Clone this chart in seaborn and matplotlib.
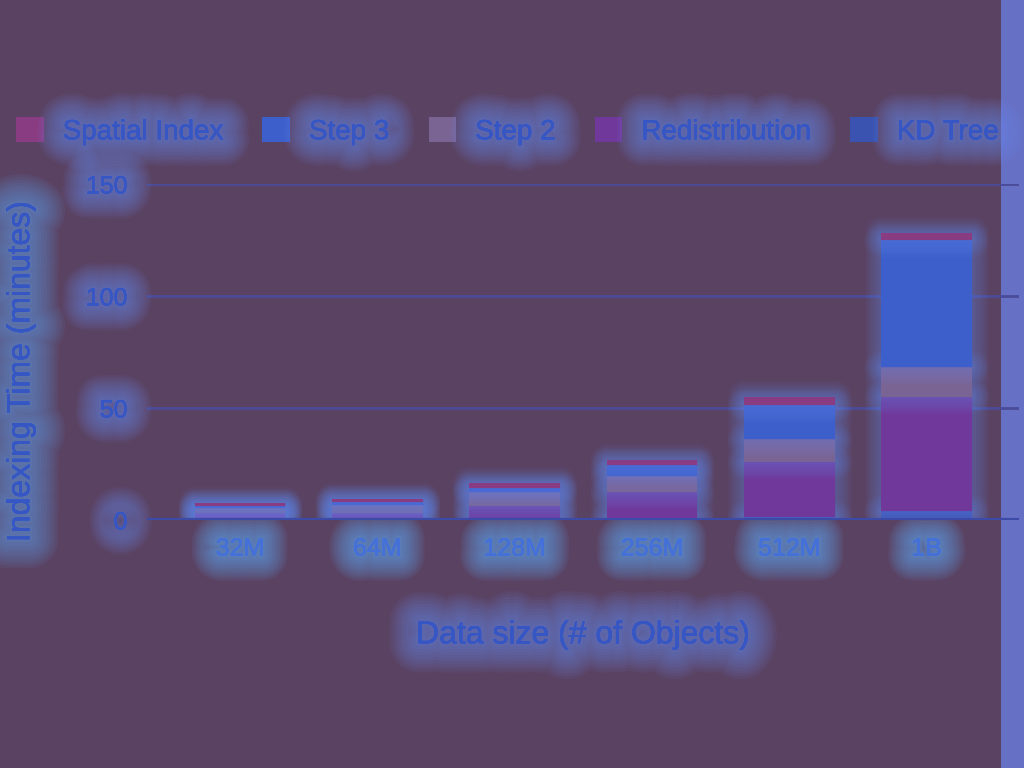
import numpy as np
import pandas as pd
import matplotlib
matplotlib.use("Agg")
import matplotlib.pyplot as plt
import matplotlib.patheffects as pe
from matplotlib.patches import Rectangle, Patch
import seaborn as sns

# --- Data (minutes) ---
sizes = ["32M", "64M", "128M", "256M", "512M", "1B"]
kd_tree = [0.5, 0.5, 0.5, 1.0, 1.5, 4.0]
redistribution = [2.5, 2.5, 5.5, 11.5, 24.5, 51.0]
step2 = [2.5, 3.7, 6.4, 7.1, 10.2, 13.4]
step3 = [0.8, 1.2, 1.9, 5.0, 15.0, 56.7]
spatial_index = [1.2, 1.6, 2.1, 2.2, 3.5, 3.1]

# stacking order bottom -> top
series = ["KD Tree", "Redistribution", "Step 2", "Step 3", "Spatial Index"]
values = [kd_tree, redistribution, step2, step3, spatial_index]
colors = {
    "KD Tree": "#3a52b0",
    "Redistribution": "#70389a",
    "Step 2": "#7a6494",
    "Step 3": "#3c5fcc",
    "Spatial Index": "#8a3c82",
}

df = pd.DataFrame({"size": sizes})
for name, v in zip(series, values):
    df[name] = v

bg = "#5a4262"
text_c = "#3656c4"
glow_c = "#6a8cf0"


def glow(width=24, alpha=0.05, steps=10, color=glow_c):
    # soft halo: stacked round strokes of decreasing width
    eff = []
    for i in range(steps):
        lw = width * (steps - i) / steps
        eff.append(pe.withStroke(linewidth=lw, foreground=color, alpha=alpha,
                                 joinstyle="round", capstyle="round"))
    eff.append(pe.Normal())
    return eff


plt.rcParams["font.family"] = ["Liberation Sans", "DejaVu Sans"]

fig = plt.figure(figsize=(10.24, 7.68), dpi=100, facecolor=bg)

# right edge strip
fig.patches.append(Rectangle((0.978, 0), 0.022, 1, transform=fig.transFigure,
                             facecolor="#6670c4", edgecolor="none", zorder=-1))

ax = fig.add_axes([0.1436, 0.323, 0.852, 0.4375])
ax.patch.set_alpha(0)

bottom = np.zeros(len(sizes))
for name in series:
    sns.barplot(data=df, x="size", y=name, bottom=bottom, color=colors[name],
                width=0.66, ax=ax, saturation=1, zorder=3)
    bottom += df[name].values

for bar in ax.patches:
    bar.set_edgecolor("none")
    bar.set_path_effects(glow(width=24, alpha=0.05, steps=8))

ax.set_ylim(0, 150)
ax.set_xlim(-0.677, 5.677)
ax.set_yticks([0, 50, 100, 150])
for s in ax.spines.values():
    s.set_visible(False)
ax.grid(axis="y", color="#4a4c98", linewidth=2, zorder=1)
ax.axhline(0, color="#3c4aa8", linewidth=3, zorder=4)
ax.tick_params(length=0, pad=14, labelsize=18, colors=text_c)
ax.tick_params(axis="x", pad=12)
for lab in ax.get_yticklabels():
    lab.set_path_effects(glow(width=36, alpha=0.075))
for lab in ax.get_xticklabels():
    lab.set_color("#4470d8")
    lab.set_path_effects(glow(width=36, alpha=0.085, color="#60a8f4"))

ax.set_xlabel("Data size (# of Objects)", fontsize=23, color=text_c, labelpad=43,
              path_effects=glow(width=42, alpha=0.075))
ax.set_ylabel("Indexing Time (minutes)", fontsize=23, color=text_c,
              path_effects=glow(width=42, alpha=0.075, color="#60a0f0"))
ax.yaxis.set_label_coords(-0.127, 0.443)

handles = [Patch(facecolor=colors[n], edgecolor="none") for n in series[::-1]]
leg = fig.legend(handles, series[::-1], loc="center left",
                 bbox_to_anchor=(0.0157, 0.829), ncol=5, frameon=False,
                 fontsize=20, handlelength=1.0, handleheight=1.0,
                 handletextpad=0.68, columnspacing=1.42, labelcolor=text_c,
                 borderaxespad=0, borderpad=0)
for t in leg.get_texts():
    t.set_path_effects(glow(width=38, alpha=0.075))

fig.savefig("out.png", dpi=100, facecolor=bg)
